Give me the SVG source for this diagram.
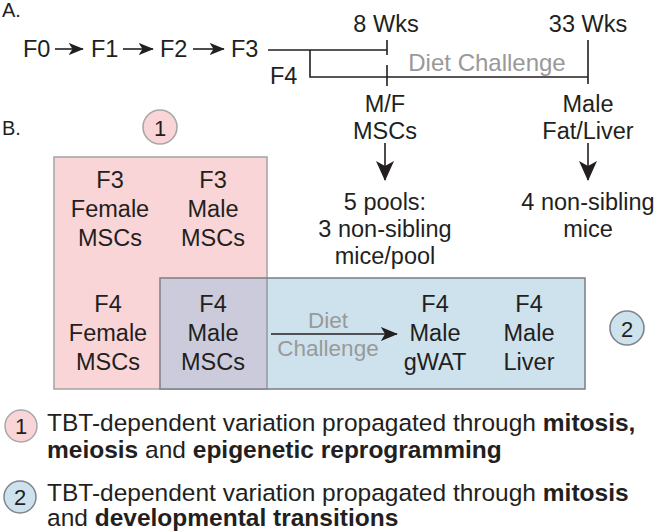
<svg xmlns="http://www.w3.org/2000/svg" width="663" height="532" viewBox="0 0 663 532">
<style>
text{font-family:"Liberation Sans",Arial,sans-serif;fill:#231f20;}
.t{font-size:23.5px;text-anchor:middle;}
.tl{font-size:23.5px;}
.g{fill:#999;}
.lg{font-size:24.5px;}
.b{font-weight:bold;}
.ln{stroke:#231f20;stroke-width:1.6;fill:none;}
.pink{fill:#f9d5d7;}
.blue{fill:#cde2ec;}
</style>
<defs>
<marker id="ah" viewBox="0 0 20 16" refX="19" refY="8" markerUnits="userSpaceOnUse" markerWidth="15" markerHeight="12" preserveAspectRatio="none" orient="auto"><path d="M0,0 L20,8 L0,16 L5,8 z" fill="#231f20"/></marker>
<marker id="ahL" viewBox="0 0 20 16" refX="19" refY="8" markerUnits="userSpaceOnUse" markerWidth="20" markerHeight="18" preserveAspectRatio="none" orient="auto"><path d="M0,0 L20,8 L0,16 L5,8 z" fill="#231f20"/></marker>
<marker id="ahM" viewBox="0 0 20 16" refX="19" refY="8" markerUnits="userSpaceOnUse" markerWidth="17" markerHeight="14" preserveAspectRatio="none" orient="auto"><path d="M0,0 L20,8 L0,16 L5,8 z" fill="#231f20"/></marker>
</defs>
<rect width="663" height="532" fill="#fff"/>

<!-- Panel labels -->
<text x="2" y="17" style="font-size:20px">A.</text>
<text x="2" y="135" style="font-size:20px">B.</text>

<!-- Panel A: generations -->
<g id="gen-F0"><text class="tl" x="23" y="57">F0</text></g>
<g id="gen-F1"><text class="tl" x="91" y="57">F1</text></g>
<g id="gen-F2"><text class="tl" x="160" y="57">F2</text></g>
<g id="gen-F3"><text class="tl" x="231" y="57">F3</text></g>
<g id="gen-F4"><text class="tl" x="270" y="84">F4</text></g>

<g id="timeline">
<text class="t" x="386" y="32">8 Wks</text>
<text class="t" x="588" y="32">33 Wks</text>
<text class="t g" x="487" y="71" style="font-size:24px">Diet Challenge</text>
<path class="ln" d="M268,50 H387 M310,50 V77 H588 M387,40 V55 M387,65 V86 M588,40 V84"/>
</g>

<g id="mf-mscs"><text class="t" x="385" y="112">M/F</text><text class="t" x="385" y="139">MSCs</text></g>
<g id="male-fat-liver"><text class="t" x="588" y="112">Male</text><text class="t" x="588" y="139">Fat/Liver</text></g>
<g id="pools"><text class="t" x="385" y="210">5 pools:</text><text class="t" x="385" y="237">3 non-sibling</text><text class="t" x="385" y="264">mice/pool</text></g>
<g id="nonsib"><text class="t" x="588" y="210">4 non-sibling</text><text class="t" x="588" y="237">mice</text></g>

<!-- Panel B boxes -->
<g id="box1">
<rect class="pink" x="54" y="157" width="213" height="232" stroke="#a8a8a8" stroke-width="1.6"/>
</g>
<g id="box2">
<rect class="blue" x="160" y="278" width="425" height="111"/>
<rect x="160" y="278" width="107" height="111" fill="#cbcbdb"/>
<path d="M267,278 V389" stroke="#9a9aa6" stroke-width="1.6" fill="none"/>
<rect x="160" y="278" width="425" height="111" fill="none" stroke="#7f858a" stroke-width="1.6"/>
</g>
<g id="c1"><circle cx="160" cy="127" r="17" class="pink" stroke="#a8a8a8" stroke-width="1.6"/><text class="t" x="160" y="135.5" style="font-size:22px">1</text></g>
<g id="c2"><circle cx="627" cy="328" r="17" class="blue" stroke="#7f858a" stroke-width="1.6"/><text class="t" x="627" y="336.5" style="font-size:22px">2</text></g>

<g id="f3-female"><text class="t" x="110" y="188">F3</text><text class="t" x="110" y="217">Female</text><text class="t" x="110" y="246">MSCs</text></g>
<g id="f3-male"><text class="t" x="213" y="188">F3</text><text class="t" x="213" y="217">Male</text><text class="t" x="213" y="246">MSCs</text></g>
<g id="f4-female"><text class="t" x="108" y="312">F4</text><text class="t" x="108" y="341">Female</text><text class="t" x="108" y="370">MSCs</text></g>
<g id="f4-male"><text class="t" x="213" y="312">F4</text><text class="t" x="213" y="341">Male</text><text class="t" x="213" y="370">MSCs</text></g>
<g id="f4-gwat"><text class="t" x="435" y="312">F4</text><text class="t" x="435" y="341">Male</text><text class="t" x="435" y="370">gWAT</text></g>
<g id="f4-liver"><text class="t" x="529" y="312">F4</text><text class="t" x="529" y="341">Male</text><text class="t" x="529" y="370">Liver</text></g>
<g id="diet-label"><text class="t g" x="328" y="328" style="font-size:22.5px">Diet</text><text class="t g" x="328" y="356" style="font-size:22.5px">Challenge</text></g>

<!-- Connectors -->
<g id="connectors">
<line class="ln" x1="55" y1="49" x2="83" y2="49" marker-end="url(#ah)"/>
<line class="ln" x1="123" y1="49" x2="153" y2="49" marker-end="url(#ah)"/>
<line class="ln" x1="193" y1="49" x2="224" y2="49" marker-end="url(#ah)"/>
<line class="ln" x1="385" y1="143" x2="385" y2="180" marker-end="url(#ahL)"/>
<line class="ln" x1="588" y1="143" x2="588" y2="180" marker-end="url(#ahL)"/>
<line class="ln" x1="271" y1="334" x2="397" y2="334" marker-end="url(#ahM)"/>
</g>

<!-- Legend -->
<g id="legend1">
<circle cx="21" cy="426" r="16" class="pink" stroke="#a8a8a8" stroke-width="1.5"/>
<text class="t" x="21" y="434" style="font-size:22px">1</text>
<text class="lg" x="47" y="431">TBT-dependent variation propagated through <tspan class="b">mitosis,</tspan></text>
<text class="lg" x="47" y="458"><tspan class="b">meiosis</tspan> and <tspan class="b">epigenetic reprogramming</tspan></text>
</g>
<g id="legend2">
<circle cx="20" cy="497" r="16" class="blue" stroke="#7f858a" stroke-width="1.5"/>
<text class="t" x="20" y="505" style="font-size:22px">2</text>
<text class="lg" x="47" y="501">TBT-dependent variation propagated through <tspan class="b">mitosis</tspan></text>
<text class="lg" x="47" y="526">and <tspan class="b">developmental transitions</tspan></text>
</g>
</svg>
